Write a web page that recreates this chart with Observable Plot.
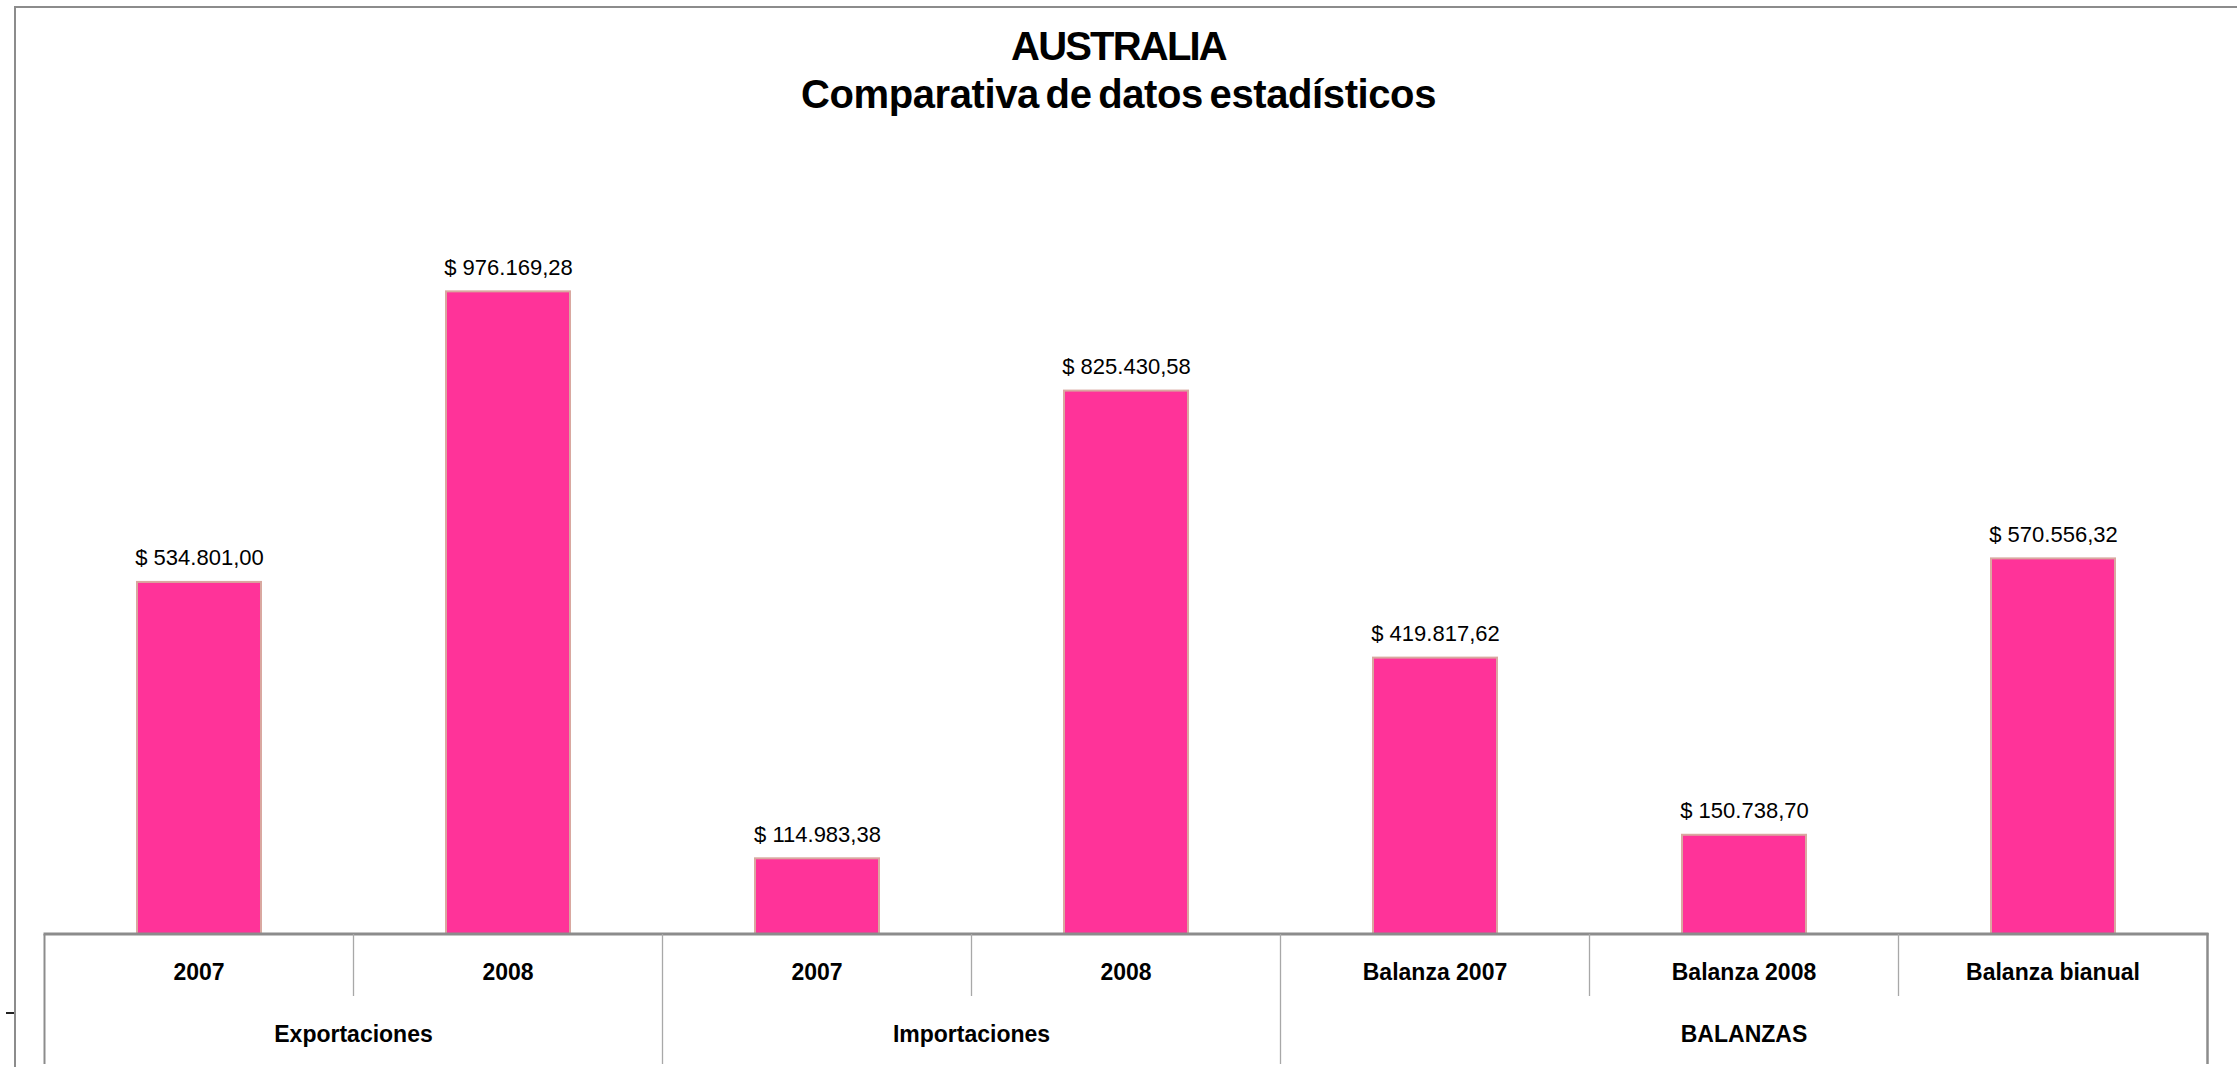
<!DOCTYPE html>
<html>
<head>
<meta charset="utf-8">
<script src="https://cdn.jsdelivr.net/npm/d3@7"></script>
<script src="https://cdn.jsdelivr.net/npm/@observablehq/plot@0.6"></script>
<style>
  html, body { margin: 0; padding: 0; background: #fff; }
  #wrap { position: relative; width: 2237px; height: 1067px; overflow: hidden; font-family: "Liberation Sans", Arial, sans-serif; }
  #frame { position: absolute; left: 14px; top: 6px; right: -10px; bottom: -10px; border-top: 2px solid #8c8c8c; border-left: 2px solid #8c8c8c; }
  #dash { position: absolute; left: 6px; top: 1012px; width: 8px; height: 2px; background: #222; }
  #titles { position: relative; height: 130px; text-align: center; font-weight: bold; color: #000; }
  #t1 { position: absolute; left: 0; right: 0; top: 26px; font-size: 40px; letter-spacing: -1.8px; line-height: 1; white-space: nowrap; }
  #t2 { position: absolute; left: 0; right: 0; top: 74px; font-size: 40px; letter-spacing: -0.4px; word-spacing: -4px; line-height: 1; white-space: nowrap; }
  #chart { position: relative; }
</style>
</head>
<body>
<div id="wrap">
  <div id="frame"></div>
  <div id="dash"></div>
  <div id="titles">
    <div id="t1">AUSTRALIA</div>
    <div id="t2">Comparativa de datos estadísticos</div>
  </div>
  <div id="chart"></div>
</div>
<script>
const categories = ["2007", "2008", "2007", "2008", "Balanza 2007", "Balanza 2008", "Balanza bianual"];
const groups = ["Exportaciones", "Exportaciones", "Importaciones", "Importaciones", "BALANZAS", "BALANZAS", "BALANZAS"];
const values = [534801.00, 976169.28, 114983.38, 825430.58, 419817.62, 150738.70, 570556.32];
const yMax = 1200000;

const data = categories.map((c, i) => ({key: groups[i] + "|" + c, cat: c, group: groups[i], value: values[i]}));

const locale = d3.formatLocale({decimal: ",", thousands: ".", grouping: [3], currency: ["$ ", ""]});
const fmt = locale.format("$,.2f");

const W = 2237, H = 937;
const plot = Plot.plot({
  width: W,
  height: H,
  marginLeft: 42,
  marginRight: 27,
  marginTop: 14,
  marginBottom: 133,
  style: {fontFamily: "'Liberation Sans', Arial, sans-serif", background: "transparent"},
  x: {domain: data.map(d => d.key), paddingInner: 0.6, paddingOuter: 0.3, axis: null},
  y: {domain: [0, yMax], axis: null},
  marks: [
    Plot.barY(data, {x: "key", y: "value", fill: "#FF3399", stroke: "#D9A8A0", strokeWidth: 2}),
    Plot.text(data, {x: "key", y: "value", text: d => fmt(d.value), dy: -24, fontSize: 22, fill: "#000", lineAnchor: "middle"})
  ]
});
document.getElementById("chart").appendChild(plot);

// category table drawn from the plot's own scales
const xs = plot.scale("x");
const ys = plot.scale("y");
const svg = d3.select(plot);
const step = xs.step, bw = xs.bandwidth;
const y0 = ys.apply(0);
const keys = data.map(d => d.key);
const left = k => xs.apply(k) - (step - bw) / 2;
const right = k => xs.apply(k) + bw + (step - bw) / 2;
const g = svg.append("g");
const rowBase = y0 + 46, rowEnd = y0 + 62, groupBase = y0 + 108, groupEnd = y0 + 130;

// horizontal axis line
g.append("line").attr("x1", left(keys[0]) - 1).attr("x2", right(keys[keys.length - 1]) + 1)
  .attr("y1", y0).attr("y2", y0).attr("stroke", "#8c8c8c").attr("stroke-width", 3);

keys.forEach((k, i) => {
  const isGroupStart = i === 0 || data[i].group !== data[i - 1].group;
  g.append("line").attr("x1", left(k)).attr("x2", left(k)).attr("y1", y0).attr("y2", isGroupStart ? groupEnd : rowEnd)
    .attr("stroke", i === 0 ? "#8c8c8c" : "#a8a8a8").attr("stroke-width", i === 0 ? 2 : 1.3);
  g.append("text").attr("x", left(k) + step / 2).attr("y", rowBase).attr("text-anchor", "middle")
    .attr("font-size", 23).attr("font-weight", "bold").text(data[i].cat);
});
const lastK = keys[keys.length - 1];
g.append("line").attr("x1", right(lastK)).attr("x2", right(lastK)).attr("y1", y0 - 1).attr("y2", groupEnd)
  .attr("stroke", "#8c8c8c").attr("stroke-width", 2.5);

const groupNames = [...new Set(groups)];
groupNames.forEach(gn => {
  const ks = data.filter(d => d.group === gn).map(d => d.key);
  const cx = (left(ks[0]) + right(ks[ks.length - 1])) / 2;
  g.append("text").attr("x", cx).attr("y", groupBase).attr("text-anchor", "middle")
    .attr("font-size", 23).attr("font-weight", "bold").text(gn);
});
</script>
</body>
</html>
